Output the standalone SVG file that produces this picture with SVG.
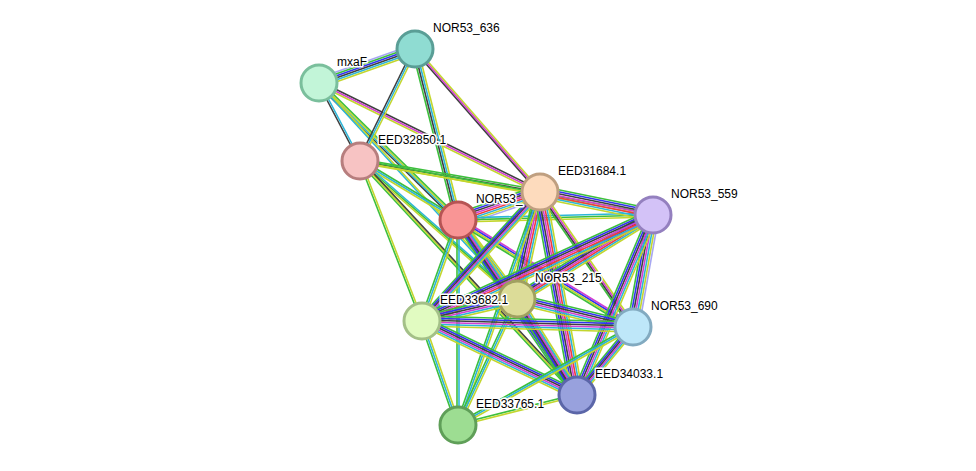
<svg xmlns="http://www.w3.org/2000/svg" xmlns:xlink="http://www.w3.org/1999/xlink" width="976" height="471" viewBox="0 0 976 471">
<style>
.g{stroke:#3dbf3d}.b{stroke:#3232f0}.k{stroke:#404040}.m{stroke:#d23fd2}.r{stroke:#f03c3c}.c{stroke:#2cb5d8}.y{stroke:#c3d62e}.l{stroke:#a7a7f2}
#edges use{stroke-width:1.6;fill:none}
.n circle{stroke-width:3}
.n text{font-family:"Liberation Sans",Arial,sans-serif;font-size:12px;fill:#000;stroke:#fff;stroke-width:3;paint-order:stroke;stroke-linejoin:round}
</style>
<defs>
<line id="e1" x1="319" y1="83" x2="415" y2="49"/>
<line id="e2" x1="319" y1="83" x2="360" y2="161"/>
<line id="e3" x1="319" y1="83" x2="458" y2="220"/>
<line id="e4" x1="319" y1="83" x2="540" y2="192"/>
<line id="e5" x1="319" y1="83" x2="517" y2="299"/>
<line id="e6" x1="415" y1="49" x2="360" y2="161"/>
<line id="e7" x1="415" y1="49" x2="458" y2="220"/>
<line id="e8" x1="415" y1="49" x2="540" y2="192"/>
<line id="e10" x1="360" y1="161" x2="458" y2="220"/>
<line id="e11" x1="360" y1="161" x2="540" y2="192"/>
<line id="e12" x1="360" y1="161" x2="653" y2="215"/>
<line id="e13" x1="360" y1="161" x2="422" y2="321"/>
<line id="e14" x1="360" y1="161" x2="517" y2="299"/>
<line id="e15" x1="360" y1="161" x2="577" y2="395"/>
<line id="e16" x1="458" y1="220" x2="540" y2="192"/>
<line id="e17" x1="458" y1="220" x2="653" y2="215"/>
<line id="e18" x1="458" y1="220" x2="422" y2="321"/>
<line id="e19" x1="458" y1="220" x2="517" y2="299"/>
<line id="e20" x1="458" y1="220" x2="633" y2="327"/>
<line id="e21" x1="458" y1="220" x2="577" y2="395"/>
<line id="e22" x1="458" y1="220" x2="458" y2="425"/>
<line id="e23" x1="540" y1="192" x2="653" y2="215"/>
<line id="e24" x1="540" y1="192" x2="517" y2="299"/>
<line id="e25" x1="540" y1="192" x2="422" y2="321"/>
<line id="e26" x1="540" y1="192" x2="633" y2="327"/>
<line id="e27" x1="540" y1="192" x2="577" y2="395"/>
<line id="e28" x1="540" y1="192" x2="458" y2="425"/>
<line id="e29" x1="653" y1="215" x2="517" y2="299"/>
<line id="e30" x1="653" y1="215" x2="422" y2="321"/>
<line id="e31" x1="653" y1="215" x2="633" y2="327"/>
<line id="e32" x1="653" y1="215" x2="577" y2="395"/>
<line id="e33" x1="517" y1="299" x2="422" y2="321"/>
<line id="e34" x1="517" y1="299" x2="633" y2="327"/>
<line id="e35" x1="517" y1="299" x2="577" y2="395"/>
<line id="e36" x1="517" y1="299" x2="458" y2="425"/>
<line id="e37" x1="422" y1="321" x2="633" y2="327"/>
<line id="e38" x1="422" y1="321" x2="577" y2="395"/>
<line id="e39" x1="422" y1="321" x2="458" y2="425"/>
<line id="e40" x1="633" y1="327" x2="577" y2="395"/>
<line id="e41" x1="633" y1="327" x2="458" y2="425"/>
<line id="e42" x1="577" y1="395" x2="458" y2="425"/>
</defs>
<g id="edges">
<use href="#e1" class="l" transform="translate(0,-5)"/><use href="#e1" class="g" transform="translate(0,-3)"/><use href="#e1" class="b" transform="translate(0,-1)"/><use href="#e1" class="k" transform="translate(0,1)"/><use href="#e1" class="c" transform="translate(0,3)"/><use href="#e1" class="y" transform="translate(0,5)"/>
<use href="#e2" class="k" transform="translate(-1,0)"/><use href="#e2" class="c" transform="translate(1,0)"/>
<use href="#e3" class="k" transform="translate(-3,0)"/><use href="#e3" class="c" transform="translate(-1,0)"/><use href="#e3" class="y" transform="translate(1,0)"/><use href="#e3" class="g" transform="translate(3,0)"/>
<use href="#e4" class="k" transform="translate(0,-2)"/><use href="#e4" class="m" transform="translate(0,0)"/><use href="#e4" class="y" transform="translate(0,2)"/>
<use href="#e5" class="c" transform="translate(-1,0)"/><use href="#e5" class="y" transform="translate(1,0)"/>
<use href="#e6" class="k" transform="translate(-2,0)"/><use href="#e6" class="c" transform="translate(0,0)"/><use href="#e6" class="y" transform="translate(2,0)"/>
<use href="#e7" class="g" transform="translate(-3,0)"/><use href="#e7" class="k" transform="translate(-1,0)"/><use href="#e7" class="c" transform="translate(1,0)"/><use href="#e7" class="y" transform="translate(3,0)"/>
<use href="#e8" class="k" transform="translate(-2,0)"/><use href="#e8" class="m" transform="translate(0,0)"/><use href="#e8" class="y" transform="translate(2,0)"/>
<use href="#e10" class="g" transform="translate(0,-2)"/><use href="#e10" class="c" transform="translate(0,0)"/><use href="#e10" class="y" transform="translate(0,2)"/>
<use href="#e11" class="g" transform="translate(0,-2)"/><use href="#e11" class="k" transform="translate(0,0)"/><use href="#e11" class="y" transform="translate(0,2)"/>
<use href="#e12" class="g" transform="translate(0,-1)"/><use href="#e12" class="y" transform="translate(0,1)"/>
<use href="#e13" class="g" transform="translate(-1,0)"/><use href="#e13" class="y" transform="translate(1,0)"/>
<use href="#e14" class="c" transform="translate(0,-2)"/><use href="#e14" class="g" transform="translate(0,0)"/><use href="#e14" class="y" transform="translate(0,2)"/>
<use href="#e15" class="g" transform="translate(-2,0)"/><use href="#e15" class="y" transform="translate(0,0)"/><use href="#e15" class="k" transform="translate(2,0)"/>
<use href="#e16" class="g" transform="translate(0,-7)"/><use href="#e16" class="b" transform="translate(0,-5)"/><use href="#e16" class="k" transform="translate(0,-3)"/><use href="#e16" class="m" transform="translate(0,-1)"/><use href="#e16" class="r" transform="translate(0,1)"/><use href="#e16" class="c" transform="translate(0,3)"/><use href="#e16" class="y" transform="translate(0,5)"/><use href="#e16" class="l" transform="translate(0,7)"/>
<use href="#e17" class="c" transform="translate(0,-2)"/><use href="#e17" class="g" transform="translate(0,0)"/><use href="#e17" class="y" transform="translate(0,2)"/>
<use href="#e18" class="g" transform="translate(-2,0)"/><use href="#e18" class="c" transform="translate(0,0)"/><use href="#e18" class="y" transform="translate(2,0)"/>
<use href="#e19" class="g" transform="translate(-5,0)"/><use href="#e19" class="b" transform="translate(-3,0)"/><use href="#e19" class="k" transform="translate(-1,0)"/><use href="#e19" class="m" transform="translate(1,0)"/><use href="#e19" class="c" transform="translate(3,0)"/><use href="#e19" class="y" transform="translate(5,0)"/>
<use href="#e20" class="m" transform="translate(0,-3)"/><use href="#e20" class="b" transform="translate(0,-1)"/><use href="#e20" class="y" transform="translate(0,1)"/><use href="#e20" class="g" transform="translate(0,3)"/>
<use href="#e21" class="g" transform="translate(-5,0)"/><use href="#e21" class="b" transform="translate(-3,0)"/><use href="#e21" class="k" transform="translate(-1,0)"/><use href="#e21" class="m" transform="translate(1,0)"/><use href="#e21" class="c" transform="translate(3,0)"/><use href="#e21" class="y" transform="translate(5,0)"/>
<use href="#e22" class="g" transform="translate(-1,0)"/><use href="#e22" class="c" transform="translate(1,0)"/>
<use href="#e23" class="g" transform="translate(0,-6)"/><use href="#e23" class="b" transform="translate(0,-4)"/><use href="#e23" class="k" transform="translate(0,-2)"/><use href="#e23" class="m" transform="translate(0,0)"/><use href="#e23" class="r" transform="translate(0,2)"/><use href="#e23" class="c" transform="translate(0,4)"/><use href="#e23" class="y" transform="translate(0,6)"/>
<use href="#e24" class="g" transform="translate(-6,0)"/><use href="#e24" class="b" transform="translate(-4,0)"/><use href="#e24" class="k" transform="translate(-2,0)"/><use href="#e24" class="m" transform="translate(0,0)"/><use href="#e24" class="r" transform="translate(2,0)"/><use href="#e24" class="c" transform="translate(4,0)"/><use href="#e24" class="y" transform="translate(6,0)"/>
<use href="#e25" class="g" transform="translate(-5,0)"/><use href="#e25" class="b" transform="translate(-3,0)"/><use href="#e25" class="k" transform="translate(-1,0)"/><use href="#e25" class="m" transform="translate(1,0)"/><use href="#e25" class="c" transform="translate(3,0)"/><use href="#e25" class="y" transform="translate(5,0)"/>
<use href="#e26" class="g" transform="translate(-3,0)"/><use href="#e26" class="k" transform="translate(-1,0)"/><use href="#e26" class="m" transform="translate(1,0)"/><use href="#e26" class="y" transform="translate(3,0)"/>
<use href="#e27" class="g" transform="translate(-6,0)"/><use href="#e27" class="b" transform="translate(-4,0)"/><use href="#e27" class="k" transform="translate(-2,0)"/><use href="#e27" class="m" transform="translate(0,0)"/><use href="#e27" class="r" transform="translate(2,0)"/><use href="#e27" class="c" transform="translate(4,0)"/><use href="#e27" class="y" transform="translate(6,0)"/>
<use href="#e28" class="g" transform="translate(-2,0)"/><use href="#e28" class="c" transform="translate(0,0)"/><use href="#e28" class="y" transform="translate(2,0)"/>
<use href="#e29" class="g" transform="translate(0,-6)"/><use href="#e29" class="b" transform="translate(0,-4)"/><use href="#e29" class="k" transform="translate(0,-2)"/><use href="#e29" class="m" transform="translate(0,0)"/><use href="#e29" class="r" transform="translate(0,2)"/><use href="#e29" class="c" transform="translate(0,4)"/><use href="#e29" class="y" transform="translate(0,6)"/>
<use href="#e30" class="g" transform="translate(0,-6)"/><use href="#e30" class="b" transform="translate(0,-4)"/><use href="#e30" class="k" transform="translate(0,-2)"/><use href="#e30" class="m" transform="translate(0,0)"/><use href="#e30" class="r" transform="translate(0,2)"/><use href="#e30" class="c" transform="translate(0,4)"/><use href="#e30" class="y" transform="translate(0,6)"/>
<use href="#e31" class="g" transform="translate(-6,0)"/><use href="#e31" class="b" transform="translate(-4,0)"/><use href="#e31" class="k" transform="translate(-2,0)"/><use href="#e31" class="m" transform="translate(0,0)"/><use href="#e31" class="c" transform="translate(2,0)"/><use href="#e31" class="y" transform="translate(4,0)"/><use href="#e31" class="l" transform="translate(6,0)"/>
<use href="#e32" class="g" transform="translate(-5,0)"/><use href="#e32" class="b" transform="translate(-3,0)"/><use href="#e32" class="k" transform="translate(-1,0)"/><use href="#e32" class="m" transform="translate(1,0)"/><use href="#e32" class="c" transform="translate(3,0)"/><use href="#e32" class="y" transform="translate(5,0)"/>
<use href="#e33" class="g" transform="translate(0,-5)"/><use href="#e33" class="b" transform="translate(0,-3)"/><use href="#e33" class="k" transform="translate(0,-1)"/><use href="#e33" class="m" transform="translate(0,1)"/><use href="#e33" class="c" transform="translate(0,3)"/><use href="#e33" class="y" transform="translate(0,5)"/>
<use href="#e34" class="g" transform="translate(0,-5)"/><use href="#e34" class="b" transform="translate(0,-3)"/><use href="#e34" class="k" transform="translate(0,-1)"/><use href="#e34" class="m" transform="translate(0,1)"/><use href="#e34" class="c" transform="translate(0,3)"/><use href="#e34" class="y" transform="translate(0,5)"/>
<use href="#e35" class="g" transform="translate(-5,0)"/><use href="#e35" class="b" transform="translate(-3,0)"/><use href="#e35" class="k" transform="translate(-1,0)"/><use href="#e35" class="m" transform="translate(1,0)"/><use href="#e35" class="c" transform="translate(3,0)"/><use href="#e35" class="y" transform="translate(5,0)"/>
<use href="#e36" class="g" transform="translate(-2,0)"/><use href="#e36" class="c" transform="translate(0,0)"/><use href="#e36" class="y" transform="translate(2,0)"/>
<use href="#e37" class="g" transform="translate(0,-5)"/><use href="#e37" class="b" transform="translate(0,-3)"/><use href="#e37" class="k" transform="translate(0,-1)"/><use href="#e37" class="m" transform="translate(0,1)"/><use href="#e37" class="c" transform="translate(0,3)"/><use href="#e37" class="y" transform="translate(0,5)"/>
<use href="#e38" class="g" transform="translate(0,-5)"/><use href="#e38" class="b" transform="translate(0,-3)"/><use href="#e38" class="k" transform="translate(0,-1)"/><use href="#e38" class="m" transform="translate(0,1)"/><use href="#e38" class="c" transform="translate(0,3)"/><use href="#e38" class="y" transform="translate(0,5)"/>
<use href="#e39" class="g" transform="translate(-2,0)"/><use href="#e39" class="c" transform="translate(0,0)"/><use href="#e39" class="y" transform="translate(2,0)"/>
<use href="#e40" class="g" transform="translate(-5,0)"/><use href="#e40" class="b" transform="translate(-3,0)"/><use href="#e40" class="k" transform="translate(-1,0)"/><use href="#e40" class="m" transform="translate(1,0)"/><use href="#e40" class="c" transform="translate(3,0)"/><use href="#e40" class="y" transform="translate(5,0)"/>
<use href="#e41" class="g" transform="translate(0,-2)"/><use href="#e41" class="c" transform="translate(0,0)"/><use href="#e41" class="y" transform="translate(0,2)"/>
<use href="#e42" class="g" transform="translate(0,-1)"/><use href="#e42" class="y" transform="translate(0,1)"/>
</g>
<g id="n-NOR53_636" class="n"><circle cx="415" cy="49" r="18" fill="#8fdcd2" stroke="#5a9e96"/><text x="433" y="32">NOR53_636</text></g>
<g id="n-mxaF" class="n"><circle cx="319" cy="83" r="18" fill="#c2f5d8" stroke="#7abf9c"/><text x="337" y="66">mxaF</text></g>
<g id="n-EED32850.1" class="n"><circle cx="360" cy="161" r="18" fill="#f7c3c3" stroke="#b77e7e"/><text x="378" y="144">EED32850.1</text></g>
<g id="n-NOR53_red" class="n"><circle cx="458" cy="220" r="18" fill="#f99595" stroke="#b65454"/><text x="476" y="203">NOR53_</text></g>
<g id="n-EED31684.1" class="n"><circle cx="540" cy="192" r="18" fill="#fddbbd" stroke="#bf9f80"/><text x="558" y="175">EED31684.1</text></g>
<g id="n-NOR53_559" class="n"><circle cx="653" cy="215" r="18" fill="#d3c2f7" stroke="#9480bf"/><text x="671" y="198">NOR53_559</text></g>
<g id="n-NOR53_215" class="n"><circle cx="517" cy="299" r="18" fill="#dcdc98" stroke="#a0a060"/><text x="535" y="282">NOR53_215</text></g>
<g id="n-EED33682.1" class="n"><circle cx="422" cy="321" r="18" fill="#e1fbc1" stroke="#a4c088"/><text x="440" y="304">EED33682.1</text></g>
<g id="n-NOR53_690" class="n"><circle cx="633" cy="327" r="18" fill="#bee7f9" stroke="#82aac0"/><text x="651" y="310">NOR53_690</text></g>
<g id="n-EED34033.1" class="n"><circle cx="577" cy="395" r="18" fill="#98a1dd" stroke="#5b66a8"/><text x="595" y="378">EED34033.1</text></g>
<g id="n-EED33765.1" class="n"><circle cx="458" cy="425" r="18" fill="#9ddd92" stroke="#5f9f58"/><text x="476" y="408">EED33765.1</text></g>
</svg>
